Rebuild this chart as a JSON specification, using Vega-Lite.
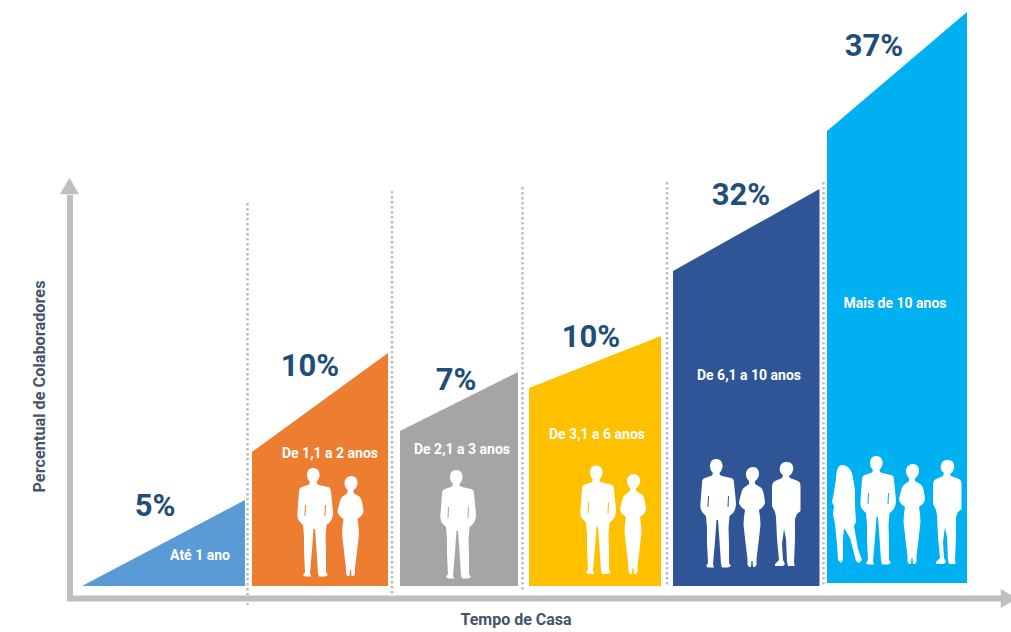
{
  "$schema": "https://vega.github.io/schema/vega-lite/v6.json",
  "width": 1011,
  "height": 632,
  "autosize": {"type": "fit", "contains": "padding"},
  "padding": 0,
  "background": "#ffffff",
  "view": {"stroke": null},
  "datasets": {
    "divisorias": [
      {"x": 247.5, "y": 383, "y2": -19},
      {"x": 392, "y": 395, "y2": -9},
      {"x": 522.5, "y": 399, "y2": -4},
      {"x": 667, "y": 404, "y2": 1},
      {"x": 823.5, "y": 404, "y2": 1}
    ],
    "eixos": [
      {"x": 70, "y": 391, "x2": 70, "y2": -15},
      {"x": 67, "y": -12.5, "x2": 1005, "y2": -12.5}
    ],
    "faixas": [
      {"faixa": "Até 1 ano", "x": 82, "y": 0, "y2": 0},
      {"faixa": "Até 1 ano", "x": 245, "y": 86, "y2": 0},
      {"faixa": "De 1,1 a 2 anos", "x": 252, "y": 134, "y2": 0},
      {"faixa": "De 1,1 a 2 anos", "x": 388, "y": 233, "y2": 0},
      {"faixa": "De 2,1 a 3 anos", "x": 400, "y": 155, "y2": 0},
      {"faixa": "De 2,1 a 3 anos", "x": 518, "y": 214, "y2": 0},
      {"faixa": "De 3,1 a 6 anos", "x": 529, "y": 198, "y2": 0},
      {"faixa": "De 3,1 a 6 anos", "x": 661, "y": 250, "y2": 0},
      {"faixa": "De 6,1 a 10 anos", "x": 673, "y": 315, "y2": 0},
      {"faixa": "De 6,1 a 10 anos", "x": 819.5, "y": 397, "y2": 0},
      {"faixa": "Mais de 10 anos", "x": 827, "y": 455, "y2": 3},
      {"faixa": "Mais de 10 anos", "x": 967, "y": 574, "y2": 3}
    ],
    "pessoas": [
      {"x": 315, "y": 64, "figura": "homem"},
      {"x": 350.5, "y": 60, "figura": "mulher"},
      {"x": 458, "y": 62, "figura": "homem"},
      {"x": 598, "y": 66.5, "figura": "homem"},
      {"x": 633, "y": 62, "figura": "mulher"},
      {"x": 718, "y": 73, "figura": "homem"},
      {"x": 752, "y": 69, "figura": "mulher"},
      {"x": 786, "y": 72, "figura": "homem2"},
      {"x": 844, "y": 72, "figura": "mulher2"},
      {"x": 878, "y": 76, "figura": "homem"},
      {"x": 912, "y": 72, "figura": "mulher"},
      {"x": 947, "y": 74, "figura": "homem2"}
    ],
    "percentuais": [
      {"x": 155, "y": 79.5, "rotulo": "5%"},
      {"x": 310, "y": 219.5, "rotulo": "10%"},
      {"x": 456, "y": 205.5, "rotulo": "7%"},
      {"x": 591, "y": 248.5, "rotulo": "10%"},
      {"x": 741, "y": 390.5, "rotulo": "32%"},
      {"x": 874, "y": 539.5, "rotulo": "37%"}
    ],
    "nomes": [
      {"x": 200, "y": 30, "rotulo": "Até 1 ano"},
      {"x": 330, "y": 132, "rotulo": "De 1,1 a 2 anos"},
      {"x": 462, "y": 136, "rotulo": "De 2,1 a 3 anos"},
      {"x": 597, "y": 151, "rotulo": "De 3,1 a 6 anos"},
      {"x": 749, "y": 210, "rotulo": "De 6,1 a 10 anos"},
      {"x": 895, "y": 282, "rotulo": "Mais de 10 anos"}
    ]
  },
  "encoding": {
    "x": {"field": "x", "type": "quantitative", "axis": null, "scale": {"domain": [0, 1011], "nice": false, "zero": false}},
    "y": {"field": "y", "type": "quantitative", "axis": null, "scale": {"domain": [-46, 586], "nice": false, "zero": false}}
  },
  "layer": [
    {
      "data": {"name": "divisorias"},
      "mark": {"type": "rule", "color": "#bdbdbd", "strokeWidth": 2.5, "strokeDash": [2.5, 2.5]},
      "encoding": {"y2": {"field": "y2"}}
    },
    {
      "data": {"name": "eixos"},
      "mark": {"type": "rule", "color": "#bfbfbf", "strokeWidth": 6},
      "encoding": {"x2": {"field": "x2"}, "y2": {"field": "y2"}}
    },
    {
      "data": {"values": [{"x": 69.5, "y": 400}]},
      "mark": {"type": "point", "shape": "triangle-up", "filled": true, "size": 361, "color": "#bfbfbf", "opacity": 1}
    },
    {
      "data": {"values": [{"x": 1009, "y": -12.5}]},
      "mark": {"type": "point", "shape": "triangle-right", "filled": true, "size": 361, "color": "#bfbfbf", "opacity": 1, "clip": true}
    },
    {
      "data": {"name": "faixas"},
      "mark": {"type": "area", "opacity": 1, "interpolate": "linear"},
      "encoding": {
        "y": {"field": "y", "type": "quantitative", "stack": null},
        "y2": {"field": "y2"},
        "color": {
          "field": "faixa",
          "type": "nominal",
          "legend": null,
          "scale": {
            "domain": ["Até 1 ano", "De 1,1 a 2 anos", "De 2,1 a 3 anos", "De 3,1 a 6 anos", "De 6,1 a 10 anos", "Mais de 10 anos"],
            "range": ["#5b9bd5", "#ed7d31", "#a5a5a5", "#ffc000", "#2f5597", "#00b0f0"]
          }
        }
      }
    },
    {
      "data": {"name": "pessoas"},
      "mark": {"type": "point", "filled": true, "size": 4, "color": "#ffffff", "opacity": 1},
      "encoding": {
        "shape": {
          "field": "figura",
          "type": "nominal",
          "legend": null,
          "scale": {
            "domain": ["homem", "homem2", "mulher", "mulher2"],
            "range": [
              "M-2,-54 C3,-54 5,-50 4.5,-46 C4,-43 2.5,-41 1.5,-40 L2,-38 L4,-37 L13,-35 C15,-34.5 16,-33 16,-30 L18,-10 C18,-4 16,-1 14,1 L11.5,3 L10.5,15 L11,30 L11,50 L13,53 L10,54.5 L4,54.5 L3,51 L1.5,28 L0,7 L-1.5,7 L-3,28 L-5,51 L-4,54.5 L-10,54.5 L-12,53 L-10,50 L-11,30 L-11,15 L-12,3 L-15,0 C-17,-2 -18,-5 -17.5,-10 L-16,-30 C-16,-33 -15,-34.5 -13,-35 L-6,-37.5 L-5,-40 C-7,-42 -8,-44 -8,-47 C-8,-51 -6,-54 -2,-54 Z M10,-17 L9.5,-6 L10.5,-6 L11,-17 Z M-10,-17 L-10.5,-6 L-9.5,-6 L-9,-17 Z",
              "M1,-52 C6,-52 8,-48 7,-44 C6.5,-41 5,-39 3,-38 L4,-36 L12,-33 C14,-32 14.5,-30 14.5,-27 L14.5,-3 L11,0 L9,5 L9,25 L8,48 L8.5,52 L2,52 L1,48 L0,25 L-2,15 L-4,30 L-3,46 L-1,50 L-3,52 L-11,52 L-11,50 L-7,46 L-9,25 L-10,3 L-11,-2 L-14,-8 L-14,-27 C-14,-30 -13,-32 -11,-33 L-4,-36 L-3,-39 C-6,-41 -7,-44 -6,-47 C-5,-51 -3,-52 1,-52 Z",
              "M1,-50 C5,-50 7,-47 7,-43 C7,-40 5,-37 3,-36 L3,-33 L8,-30 C10,-29 11,-27 12,-22 L13,-15 C13,-12 10,-9 7,-7 L8,0 L8.5,8 L6,30 L4.5,42 L4.5,48 L3,50 L1,50 L0.5,44 L-0.5,44 L-1,50 L-3,50 L-4.5,48 L-4.5,42 L-6,30 L-8.5,8 L-8,0 L-7,-7 C-10,-9 -13,-12 -13,-15 L-11,-23 C-10,-27 -9,-29 -7,-30 L-3,-33 L-3,-36 C-5,-38 -6,-40 -6,-43 C-6,-47 -3,-50 1,-50 Z",
              "M-2,-49 C4,-49 8,-44 9,-36 L11,-25 L11,-8 L12,8 L10,12 L14,35 L18,46 L15,49 L12,47 L6,24 L0,14 L-1,25 L-1,46 L-3,49 L-6,46 L-7,30 L-9,10 L-11,0 L-10,-8 L-12,-12 L-10,-22 L-8,-35 C-8,-43 -6,-49 -2,-49 Z"
            ]
          }
        }
      }
    },
    {
      "data": {"name": "percentuais"},
      "mark": {"type": "text", "font": "Roboto", "fontWeight": "bold", "fontSize": 31, "color": "#1f4e79", "align": "center", "baseline": "middle"},
      "encoding": {"text": {"field": "rotulo"}}
    },
    {
      "data": {"name": "nomes"},
      "mark": {"type": "text", "font": "Roboto", "fontWeight": "bold", "fontSize": 14, "color": "#ffffff", "align": "center", "baseline": "middle"},
      "encoding": {"text": {"field": "rotulo"}}
    },
    {
      "data": {"values": [{"x": 516, "y": -34, "rotulo": "Tempo de Casa"}]},
      "mark": {"type": "text", "font": "Roboto", "fontWeight": "bold", "fontSize": 16, "color": "#44546a", "align": "center", "baseline": "middle"},
      "encoding": {"text": {"field": "rotulo"}}
    },
    {
      "data": {"values": [{"x": 39.5, "y": 199.5, "rotulo": "Percentual de Colaboradores"}]},
      "mark": {"type": "text", "font": "Roboto", "fontWeight": "bold", "fontSize": 16.3, "angle": 270, "color": "#44546a", "align": "center", "baseline": "middle"},
      "encoding": {"text": {"field": "rotulo"}}
    }
  ]
}
